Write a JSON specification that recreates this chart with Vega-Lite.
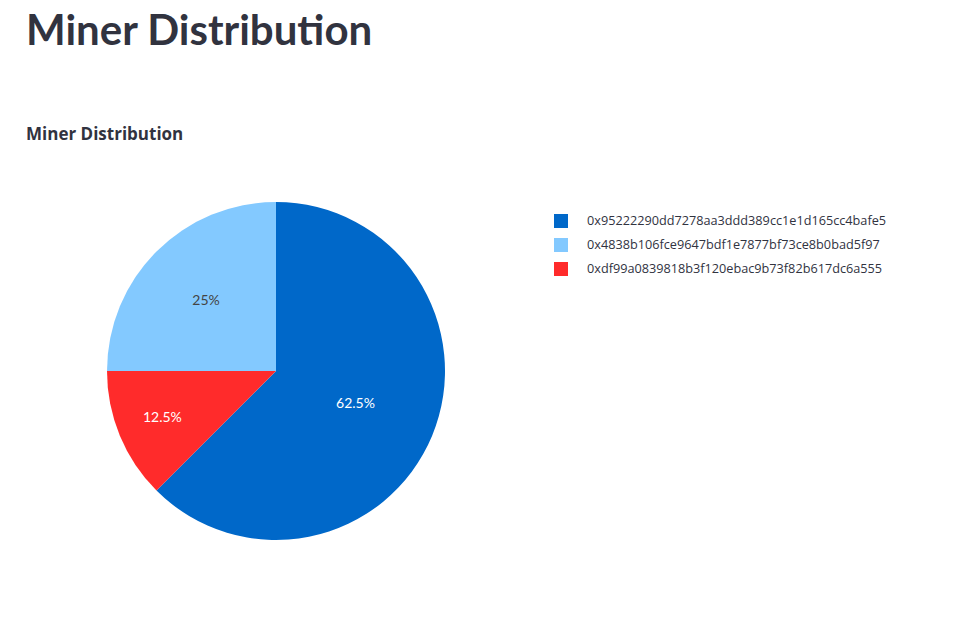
{
  "$schema": "https://vega.github.io/schema/vega-lite/v6.json",
  "width": 338,
  "height": 338,
  "padding": {"left": 26, "top": 11, "right": 10, "bottom": 10},
  "background": "white",
  "title": {
    "text": "Miner Distribution",
    "subtitle": "Miner Distribution",
    "anchor": "start",
    "frame": "group",
    "dx": -81,
    "font": "Lato",
    "fontSize": 42,
    "fontWeight": 700,
    "color": "#31333F",
    "subtitleFont": "Open Sans",
    "subtitleFontSize": 17,
    "subtitleFontWeight": 700,
    "subtitleColor": "#31333F",
    "subtitlePadding": 73,
    "offset": 58
  },
  "data": {
    "values": [
      {"miner": "0x95222290dd7278aa3ddd389cc1e1d165cc4bafe5", "blocks": 5, "label": "62.5%", "ord": 1},
      {"miner": "0x4838b106fce9647bdf1e7877bf73ce8b0bad5f97", "blocks": 2, "label": "25%", "ord": 3},
      {"miner": "0xdf99a0839818b3f120ebac9b73f82b617dc6a555", "blocks": 1, "label": "12.5%", "ord": 2}
    ]
  },
  "encoding": {
    "theta": {"field": "blocks", "type": "quantitative", "stack": true},
    "order": {"field": "ord", "type": "quantitative"}
  },
  "layer": [
    {
      "mark": {"type": "arc"},
      "encoding": {
        "color": {
          "field": "miner",
          "type": "nominal",
          "scale": {
            "domain": ["0x95222290dd7278aa3ddd389cc1e1d165cc4bafe5", "0x4838b106fce9647bdf1e7877bf73ce8b0bad5f97", "0xdf99a0839818b3f120ebac9b73f82b617dc6a555"],
            "range": ["#0068c9", "#83c9ff", "#ff2b2b"]
          },
          "legend": {
            "title": null,
            "orient": "none",
            "legendX": 447,
            "legendY": 12,
            "symbolType": "square",
            "symbolSize": 196,
            "symbolStrokeWidth": 0,
            "labelFont": "Open Sans",
            "labelFontSize": 12.7,
            "labelColor": "#31333F",
            "labelOffset": 19,
            "labelLimit": 500,
            "rowPadding": 10
          }
        }
      }
    },
    {
      "mark": {"type": "text", "radius": 86, "font": "Lato", "fontSize": 14, "color": "white"},
      "encoding": {
        "text": {"condition": {"test": "datum.ord === 1", "field": "label"}, "value": ""}
      }
    },
    {
      "mark": {"type": "text", "radius": 123, "font": "Lato", "fontSize": 14, "color": "white"},
      "encoding": {
        "text": {"condition": {"test": "datum.ord === 2", "field": "label"}, "value": ""}
      }
    },
    {
      "mark": {"type": "text", "radius": 99, "font": "Lato", "fontSize": 14, "color": "#444444"},
      "encoding": {
        "text": {"condition": {"test": "datum.ord === 3", "field": "label"}, "value": ""}
      }
    }
  ],
  "config": {"view": {"stroke": null}}
}
